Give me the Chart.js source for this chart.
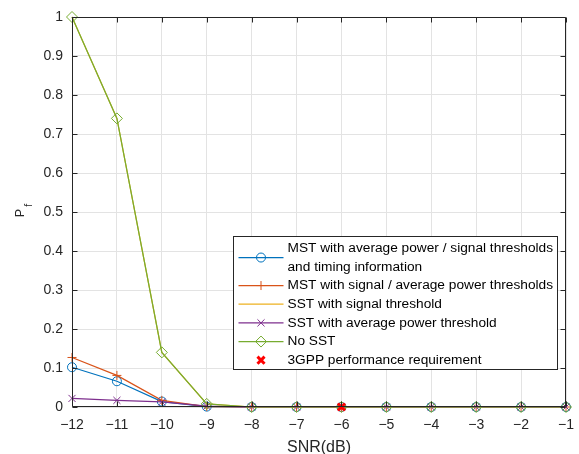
<!DOCTYPE html>
<html>
<head>
<meta charset="utf-8">
<script src="https://cdn.jsdelivr.net/npm/chart.js@4.4.1/dist/chart.umd.min.js"></script>
<style>
  html, body { margin: 0; padding: 0; background: #fff; }
  #wrap { width: 579px; height: 454px; }
</style>
</head>
<body>
<div id="wrap"><canvas id="pfChart" width="579" height="454"></canvas></div>
<script>
// Eixo x: SNR (dB)
const snr = [-12, -11, -10, -9, -8, -7, -6, -5, -4, -3, -2, -1];
const xTickLabels = ['\u221212', '\u221211', '\u221210', '\u22129', '\u22128', '\u22127', '\u22126', '\u22125', '\u22124', '\u22123', '\u22122', '\u22121'];
const yTickLabels = ['0', '0.1', '0.2', '0.3', '0.4', '0.5', '0.6', '0.7', '0.8', '0.9', '1'];

// Probabilidade de falso alarme por método
const mstAvgPower = [0.102, 0.066, 0.014, 0.001, 0, 0, 0, 0, 0, 0, 0, 0];
const mstSignal   = [0.127, 0.081, 0.017, 0.001, 0, 0, 0, 0, 0, 0, 0, 0];
const sstSignal   = [1.0, 0.74, 0.14, 0.008, 0, 0, 0, 0, 0, 0, 0, 0];
const sstAvgPower = [0.022, 0.017, 0.013, 0.002, 0, 0, 0, 0, 0, 0, 0, 0];
const noSst       = [1.0, 0.74, 0.14, 0.008, 0, 0, 0, 0, 0, 0, 0, 0];

// Requisito 3GPP
const reqSnr = [-6];
const reqPf  = [0];

const xTitle = 'SNR(dB)';
const legendLabels = [
  ['MST with average power / signal thresholds', 'and timing information'],
  ['MST with signal / average power thresholds'],
  ['SST with signal threshold'],
  ['SST with average power threshold'],
  ['No SST'],
  ['3GPP performance requirement']
];

const toPoints = (xs, ys) => xs.map((v, i) => ({ x: v, y: ys[i] }));

const FONT = '"Liberation Sans", Arial, Helvetica, sans-serif';
const AXIS = '#262626';
Chart.defaults.font.family = FONT;
Chart.defaults.font.size = 14;
Chart.defaults.color = AXIS;

function series(label, data, color, style, radius, order, showLine = true, bw = 1) {
  return {
    label, data: toPoints(snr.slice(0, data.length), data),
    borderColor: color, backgroundColor: 'rgba(0,0,0,0)',
    pointBorderColor: color, pointBackgroundColor: 'rgba(0,0,0,0)',
    pointStyle: style, pointRadius: radius, pointBorderWidth: bw,
    borderWidth: 1.2, tension: 0, showLine, clip: false, order
  };
}

const datasets = [
  series(legendLabels[0], mstAvgPower, '#0072BD', 'circle', 4.5, 5),
  series(legendLabels[1], mstSignal, '#D95319', 'cross', 4.5, 4),
  series(legendLabels[2], sstSignal, '#EDB120', false, 0, 3),
  series(legendLabels[3], sstAvgPower, '#7E2F8E', 'crossRot', 5, 2),
  series(legendLabels[4], noSst, '#77AC30', 'rectRot', 5.5, 1),
  {
    label: legendLabels[5], data: toPoints(reqSnr, reqPf),
    showLine: false, borderColor: '#FF0000', pointBorderColor: '#FF0000',
    pointBackgroundColor: '#FF0000', pointStyle: 'crossRot', pointRadius: 5,
    pointBorderWidth: 3, clip: false, order: 0
  }
];

// caixa estilo MATLAB, ticks para dentro, títulos dos eixos
const boxPlugin = {
  id: 'matlabBox',
  afterDatasetsDraw(chart) {
    const { ctx, chartArea: a, scales: { x, y } } = chart;
    ctx.save();
    ctx.strokeStyle = AXIS;
    ctx.lineWidth = 1;
    ctx.beginPath();
    const L = Math.round(a.left) + 0.5, R = Math.round(a.right) - 0.5;
    const T = Math.round(a.top) + 0.5, B = Math.round(a.bottom) - 0.5;
    ctx.rect(L, T, R - L, B - T);
    x.ticks.forEach(t => {
      const px = Math.round(x.getPixelForValue(t.value)) + 0.5;
      ctx.moveTo(px, B); ctx.lineTo(px, B - 5);
      ctx.moveTo(px, T); ctx.lineTo(px, T + 5);
    });
    y.ticks.forEach(t => {
      const py = Math.round(y.getPixelForValue(t.value)) + 0.5;
      ctx.moveTo(L, py); ctx.lineTo(L + 5, py);
      ctx.moveTo(R, py); ctx.lineTo(R - 5, py);
    });
    ctx.stroke();

    ctx.fillStyle = AXIS;
    ctx.textBaseline = 'alphabetic';
    ctx.textAlign = 'center';
    ctx.font = '16px ' + FONT;
    ctx.fillText(xTitle, (a.left + a.right) / 2, 451.5);

    // P_f
    ctx.textAlign = 'left';
    ctx.translate(23.5, (a.top + a.bottom) / 2 + 5.3);
    ctx.rotate(-Math.PI / 2);
    ctx.font = '12.5px ' + FONT;
    ctx.fillText('P', 0, 0);
    ctx.font = '10.5px ' + FONT;
    ctx.fillText('f', 10.5, 8);
    ctx.restore();
  },
  afterDraw(chart) {
    const { ctx, chartArea: a } = chart;
    const x0 = Math.round(a.right - 333) + 0.5, x1 = Math.round(a.right - 9) + 0.5;
    const y0 = Math.round(a.bottom - 171) + 0.5, y1 = Math.round(a.bottom - 38) + 0.5;
    ctx.save();
    ctx.fillStyle = '#fff';
    ctx.fillRect(x0, y0, x1 - x0, y1 - y0);
    ctx.strokeStyle = AXIS;
    ctx.lineWidth = 1;
    ctx.strokeRect(x0, y0, x1 - x0, y1 - y0);
    ctx.font = '13.7px ' + FONT;
    ctx.textBaseline = 'middle';
    const lh = 18.67;
    let line = 0;
    chart.data.datasets.forEach(ds => {
      const lines = ds.label;
      const rowY = y0 + 11.7 + lh * (line + (lines.length - 1) / 2);
      if (ds.showLine !== false) {
        ctx.strokeStyle = ds.borderColor;
        ctx.lineWidth = 1.2;
        ctx.beginPath();
        ctx.moveTo(x0 + 5, rowY); ctx.lineTo(x0 + 50, rowY);
        ctx.stroke();
      }
      if (ds.pointStyle && ds.pointRadius > 0) {
        ctx.strokeStyle = ds.pointBorderColor;
        ctx.fillStyle = ds.pointBackgroundColor;
        ctx.lineWidth = ds.pointBorderWidth;
        Chart.helpers.drawPoint(ctx, {
          pointStyle: ds.pointStyle, rotation: 0,
          radius: ds.pointRadius, borderWidth: ds.pointBorderWidth
        }, x0 + 27.5, rowY);
      }
      ctx.fillStyle = '#000';
      lines.forEach((txt, k) => {
        ctx.fillText(txt, x0 + 54, y0 + 11.7 + lh * (line + k));
      });
      line += lines.length;
    });
    ctx.restore();
  }
};

new Chart(document.getElementById('pfChart').getContext('2d'), {
  type: 'line',
  data: { datasets },
  plugins: [boxPlugin],
  options: {
    responsive: false,
    animation: false,
    devicePixelRatio: 1,
    layout: { padding: { top: 17, right: 13, left: 0, bottom: 0 } },
    plugins: { legend: { display: false }, tooltip: { enabled: false } },
    scales: {
      x: {
        type: 'linear', min: -12, max: -1,
        afterFit: s => { s.height = 47; s.paddingLeft = 0; s.paddingRight = 0; },
        grid: { color: '#e3e3e3', drawTicks: false },
        border: { display: false },
        ticks: { stepSize: 1, padding: 9.5, maxRotation: 0, autoSkip: false,
                 callback: (v, i) => xTickLabels[i] }
      },
      y: {
        min: 0, max: 1,
        afterFit: s => { s.width = 72; s.paddingTop = 0; s.paddingBottom = 0; },
        grid: { color: '#e3e3e3', drawTicks: false },
        border: { display: false },
        ticks: { stepSize: 0.1, padding: 9, callback: (v, i) => yTickLabels[i] }
      }
    }
  }
});
</script>
</body>
</html>
